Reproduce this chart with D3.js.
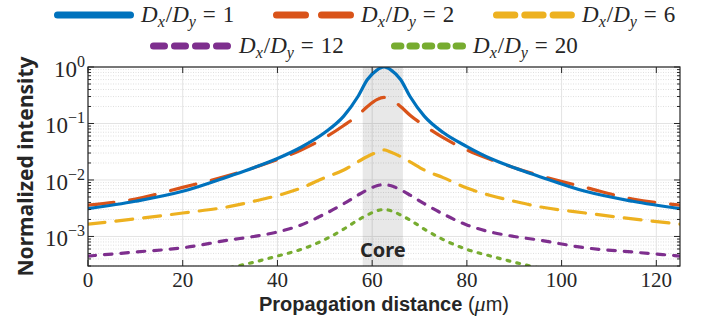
<!DOCTYPE html>
<html>
<head>
<meta charset="utf-8">
<script src="https://cdnjs.cloudflare.com/ajax/libs/d3/7.8.5/d3.min.js"></script>
<style>
  body { margin: 0; background: #fff; }
  svg { display: block; }
</style>
</head>
<body>
<script>
// propagation distance (um) where the profiles were read
var xPos = [0, 10, 20, 30, 35, 40, 45, 50, 54, 57, 59, 61, 62.5, 64, 66, 68, 71, 75, 80, 85, 90, 95, 105, 115, 125];

// normalized intensity for each Dx/Dy ratio
var ratio1  = [3.1e-3, 4.2e-3, 6.3e-3, 1.18e-2, 1.65e-2, 2.4e-2, 0.038, 0.069, 0.135, 0.30, 0.60, 0.88, 1.0, 0.88, 0.60, 0.30, 0.135, 0.069, 0.039, 0.024, 1.65e-2, 1.18e-2, 6.3e-3, 4.2e-3, 3.1e-3];
var ratio2  = [3.6e-3, 4.6e-3, 7.4e-3, 1.22e-2, 1.65e-2, 2.3e-2, 0.034, 0.056, 0.092, 0.14, 0.20, 0.265, 0.29, 0.265, 0.20, 0.14, 0.092, 0.056, 0.034, 0.023, 1.65e-2, 1.22e-2, 7.4e-3, 4.6e-3, 3.6e-3];
var ratio6  = [1.65e-3, 2.05e-3, 2.6e-3, 3.4e-3, 4.2e-3, 5.3e-3, 7.2e-3, 0.011, 0.015, 0.021, 0.026, 0.031, 0.034, 0.031, 0.026, 0.021, 0.015, 0.011, 7.2e-3, 5.3e-3, 4.2e-3, 3.4e-3, 2.6e-3, 2.05e-3, 1.65e-3];
var ratio12 = [4.5e-4, 5.3e-4, 6.3e-4, 8.7e-4, 1.0e-3, 1.2e-3, 1.6e-3, 2.5e-3, 3.8e-3, 5.4e-3, 6.7e-3, 7.9e-3, 8.3e-3, 7.9e-3, 6.7e-3, 5.4e-3, 3.8e-3, 2.5e-3, 1.6e-3, 1.2e-3, 1.0e-3, 8.7e-4, 6.3e-4, 5.3e-4, 4.5e-4];
var ratio20 = [null, null, null, 2.8e-4, 3.5e-4, 4.5e-4, 5.9e-4, 8.8e-4, 1.35e-3, 1.95e-3, 2.4e-3, 2.85e-3, 3.0e-3, 2.85e-3, 2.4e-3, 1.95e-3, 1.35e-3, 8.8e-4, 5.9e-4, 4.5e-4, 3.5e-4, 2.8e-4, null, null, null];

var ratios = [1, 2, 6, 12, 20];
var colors = ["#0072bd", "#d95319", "#edb120", "#7e2f8e", "#77ac30"];

var xTicks = [0, 20, 40, 60, 80, 100, 120];
var yTicks = [1e-3, 1e-2, 1e-1, 1];
var yTickExp = ["\u22123", "\u22122", "\u22121", "0"];

var coreRange = [58, 66.5];
var coreLabel = "Core";

var W = 710, H = 325;
var margin = {top: 67, right: 30, bottom: 59, left: 88};
var x = d3.scaleLinear().domain([0, 125]).range([margin.left, W - margin.right]);
var y = d3.scaleLog().domain([3e-4, 1]).range([H - margin.bottom, margin.top]);

var svg = d3.select("body").append("svg")
    .attr("width", W)
    .attr("height", H);

var x0 = x.range()[0], x1 = x.range()[1];
var yb = y.range()[0], yt = y.range()[1];

// grid
var minorVals = [];
for (var e = -4; e < 0; e++) {
  for (var k = 2; k < 10; k++) {
    var v = k * Math.pow(10, e);
    if (v > y.domain()[0] && v < 1) minorVals.push(v);
  }
}
var grid = svg.append("g");
grid.selectAll(".ymin").data(minorVals).enter().append("line")
    .attr("x1", x0).attr("x2", x1)
    .attr("y1", function(d) { return y(d); }).attr("y2", function(d) { return y(d); })
    .attr("stroke", "#d2d2d2").attr("stroke-width", 0.7)
    .attr("stroke-dasharray", "1,1.5");
grid.selectAll(".ymaj").data(yTicks).enter().append("line")
    .attr("x1", x0).attr("x2", x1)
    .attr("y1", function(d) { return y(d); }).attr("y2", function(d) { return y(d); })
    .attr("stroke", "#e3e3e3").attr("stroke-width", 1);
grid.selectAll(".xmaj").data(xTicks).enter().append("line")
    .attr("y1", yb).attr("y2", yt)
    .attr("x1", function(d) { return x(d); }).attr("x2", function(d) { return x(d); })
    .attr("stroke", "#e3e3e3").attr("stroke-width", 1);

// core region
svg.append("rect")
    .attr("x", x(coreRange[0]))
    .attr("y", yt)
    .attr("width", x(coreRange[1]) - x(coreRange[0]))
    .attr("height", yb - yt)
    .attr("fill", "#000").attr("fill-opacity", 0.09);

svg.append("text")
    .attr("x", x((coreRange[0] + coreRange[1]) / 2))
    .attr("y", 257)
    .attr("text-anchor", "middle")
    .attr("font-family", "Noto Sans, sans-serif")
    .attr("font-weight", "bold")
    .attr("font-size", 20)
    .attr("fill", "#262626")
    .text(coreLabel);

// curves
svg.append("clipPath").attr("id", "plotclip")
  .append("rect").attr("x", x0).attr("y", yt).attr("width", x1 - x0).attr("height", yb - yt);

var series = [ratio1, ratio2, ratio6, ratio12, ratio20];
var plotDash = [null, "26,16", "17,11", "7.5,9", "2.8,7.2"];
var legDash = [null, "29,16", "18.3,10", "11,10", "6.4,9"];

var line = d3.line()
    .defined(function(d) { return d[1] != null; })
    .x(function(d) { return x(d[0]); })
    .y(function(d) { return y(d[1]); })
    .curve(d3.curveMonotoneX);

var curves = svg.append("g").attr("clip-path", "url(#plotclip)");
for (var i = series.length - 1; i >= 0; i--) {
  var pts = xPos.map(function(xv, j) { return [xv, series[i][j]]; });
  curves.append("path")
      .attr("d", line(pts))
      .attr("fill", "none")
      .attr("stroke", colors[i])
      .attr("stroke-width", 3.2)
      .attr("stroke-linecap", "round")
      .attr("stroke-linejoin", "round")
      .attr("stroke-dasharray", plotDash[i]);
}

// axes box and ticks
var axc = "#262626";
var ax = svg.append("g");
ax.append("rect")
    .attr("x", x0).attr("y", yt).attr("width", x1 - x0).attr("height", yb - yt)
    .attr("fill", "none").attr("stroke", axc).attr("stroke-width", 1.2);

xTicks.forEach(function(t) {
  ax.append("line").attr("x1", x(t)).attr("x2", x(t)).attr("y1", yb).attr("y2", yb - 6).attr("stroke", axc);
  ax.append("line").attr("x1", x(t)).attr("x2", x(t)).attr("y1", yt).attr("y2", yt + 6).attr("stroke", axc);
  ax.append("text")
      .attr("x", x(t)).attr("y", 287)
      .attr("text-anchor", "middle")
      .attr("font-family", "Liberation Serif, serif")
      .attr("font-size", 21)
      .attr("fill", axc)
      .text(t);
});

yTicks.forEach(function(t, i) {
  ax.append("line").attr("x1", x0).attr("x2", x0 + 6).attr("y1", y(t)).attr("y2", y(t)).attr("stroke", axc);
  ax.append("line").attr("x1", x1).attr("x2", x1 - 6).attr("y1", y(t)).attr("y2", y(t)).attr("stroke", axc);
  var lab = ax.append("text")
      .attr("x", 85).attr("y", y(t) + 10)
      .attr("text-anchor", "end")
      .attr("font-family", "Liberation Serif, serif")
      .attr("font-size", 23)
      .attr("fill", axc);
  lab.append("tspan").text("10");
  lab.append("tspan").attr("dy", -10).attr("font-size", 16).text(yTickExp[i]);
});

minorVals.forEach(function(t) {
  ax.append("line").attr("x1", x0).attr("x2", x0 + 3).attr("y1", y(t)).attr("y2", y(t)).attr("stroke", axc);
  ax.append("line").attr("x1", x1).attr("x2", x1 - 3).attr("y1", y(t)).attr("y2", y(t)).attr("stroke", axc);
});

// axis labels
var xl = svg.append("text")
    .attr("x", (x0 + x1) / 2).attr("y", 311)
    .attr("text-anchor", "middle")
    .attr("font-family", "Liberation Sans, sans-serif")
    .attr("font-size", 20)
    .attr("fill", axc);
xl.append("tspan").attr("font-weight", "bold").text("Propagation distance ");
xl.append("tspan").text("(");
xl.append("tspan").attr("font-family", "Liberation Serif, serif").attr("font-style", "italic").attr("font-size", 22).text("\u03bc");
xl.append("tspan").text("m)");

svg.append("text")
    .attr("transform", "translate(33," + ((yt + yb) / 2) + ") rotate(-90)")
    .attr("text-anchor", "middle")
    .attr("font-family", "Noto Sans, sans-serif")
    .attr("font-weight", "bold")
    .attr("font-size", 21)
    .attr("fill", axc)
    .text("Normalized intensity");

// legend
var legPos = [
  {x1: 54, x2: 134, tx: 141, y: 15},
  {x1: 273, x2: 355, tx: 361, y: 15},
  {x1: 493, x2: 575, tx: 582, y: 15},
  {x1: 150, x2: 232, tx: 239, y: 46},
  {x1: 391, x2: 466, tx: 473, y: 46}
];
var leg = svg.append("g");
ratios.forEach(function(r, i) {
  var p = legPos[i];
  leg.append("line")
      .attr("x1", p.x1 + 3.5).attr("x2", p.x2 - 3.5)
      .attr("y1", p.y).attr("y2", p.y)
      .attr("stroke", colors[i])
      .attr("stroke-width", 7)
      .attr("stroke-linecap", "round")
      .attr("stroke-dasharray", legDash[i]);
  var t = leg.append("text")
      .attr("x", p.tx).attr("y", p.y + 7)
      .attr("font-family", "Liberation Serif, serif")
      .attr("font-size", 23)
      .attr("fill", axc);
  t.append("tspan").attr("font-style", "italic").text("D");
  t.append("tspan").attr("font-style", "italic").attr("font-size", 16).attr("dy", 5).text("x");
  t.append("tspan").attr("dy", -5).attr("dx", 1).text("/");
  t.append("tspan").attr("font-style", "italic").text("D");
  t.append("tspan").attr("font-style", "italic").attr("font-size", 16).attr("dy", 5).text("y");
  t.append("tspan").attr("dy", -5).attr("dx", 7).text("=");
  t.append("tspan").attr("dx", 7).text(r);
});
</script>
</body>
</html>
